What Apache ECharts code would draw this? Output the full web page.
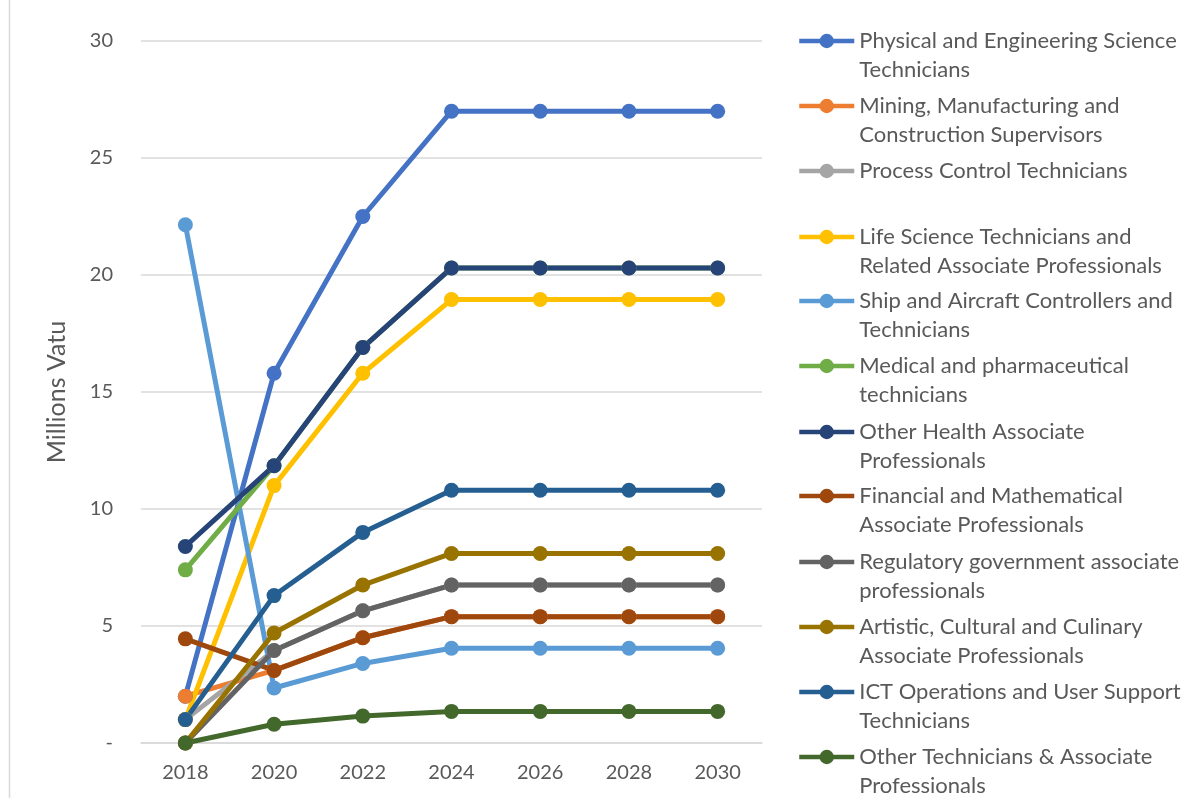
<!DOCTYPE html>
<html>
<head>
<meta charset="utf-8">
<script src="https://cdn.jsdelivr.net/npm/echarts@6/dist/echarts.min.js"></script>
<style>
  html, body { margin: 0; padding: 0; background: #ffffff; }
  #chart { width: 1202px; height: 798px; }
</style>
</head>
<body>
<div id="chart"></div>
<script>
// Years on the x axis
const years = ['2018', '2020', '2022', '2024', '2026', '2028', '2030'];

// Occupation groups (legend text, with line breaks as wrapped)
const names = [
  'Physical and Engineering Science\nTechnicians',
  'Mining, Manufacturing and\nConstruction Supervisors',
  'Process Control Technicians',
  'Life Science Technicians and\nRelated Associate Professionals',
  'Ship and Aircraft Controllers and\nTechnicians',
  'Medical and pharmaceutical\ntechnicians',
  'Other Health Associate\nProfessionals',
  'Financial and Mathematical\nAssociate Professionals',
  'Regulatory government associate\nprofessionals',
  'Artistic, Cultural and Culinary\nAssociate Professionals',
  'ICT Operations and User Support\nTechnicians',
  'Other Technicians & Associate\nProfessionals'
];

// Values in millions of vatu
const physicalEng   = [2.0, 15.8, 22.5, 27.0, 27.0, 27.0, 27.0];
const miningSuperv  = [2.0, 3.1, 4.5, 5.4, 5.4, 5.4, 5.4];
const processCtrl   = [1.0, 3.95, 5.65, 6.75, 6.75, 6.75, 6.75];
const lifeScience   = [1.0, 11.0, 15.8, 18.95, 18.95, 18.95, 18.95];
const shipAircraft  = [22.15, 2.35, 3.4, 4.05, 4.05, 4.05, 4.05];
const medicalPharm  = [7.4, 11.85, 16.9, 20.3, 20.3, 20.3, 20.3];
const otherHealth   = [8.4, 11.85, 16.9, 20.3, 20.3, 20.3, 20.3];
const financialMath = [4.45, 3.1, 4.5, 5.4, 5.4, 5.4, 5.4];
const regulatoryGov = [0, 3.95, 5.65, 6.75, 6.75, 6.75, 6.75];
const artisticCult  = [0, 4.7, 6.75, 8.1, 8.1, 8.1, 8.1];
const ictOps        = [1.0, 6.3, 9.0, 10.8, 10.8, 10.8, 10.8];
const otherTech     = [0, 0.8, 1.15, 1.35, 1.35, 1.35, 1.35];

const seriesValues = [
  physicalEng, miningSuperv, processCtrl, lifeScience, shipAircraft, medicalPharm,
  otherHealth, financialMath, regulatoryGov, artisticCult, ictOps, otherTech
];

const colors = [
  '#4472C4', '#ED7D31', '#A5A5A5', '#FFC000', '#5B9BD5', '#70AD47',
  '#264478', '#9E480E', '#636363', '#997300', '#255E91', '#43682B'
];

// Vertical centre of each legend icon
const legendRows = [41, 106, 171, 237, 301, 366, 432, 496, 562, 627, 692, 757];

const FONT = 'Lato, "Open Sans", sans-serif';
const TEXT = '#595959';
const LINE_H = 29;

// One legend per entry so each can sit at its own row. For wrapped entries an
// empty leading line keeps the icon level with the first line of text.
const legends = names.map((n, i) => {
  const twoLines = n.indexOf('\n') >= 0;
  return {
    show: true,
    orient: 'vertical',
    left: 797,
    top: twoLines ? legendRows[i] - LINE_H * 1.5 : legendRows[i] - LINE_H / 2,
    itemWidth: 55,
    itemHeight: 18,
    itemGap: 0,
    padding: 0,
    data: [n],
    selectedMode: false,
    formatter: name => (name.indexOf('\n') >= 0 ? '\n' + name : name),
    lineStyle: { width: 4.5 },
    textStyle: {
      fontFamily: FONT,
      fontSize: 22,
      color: TEXT,
      lineHeight: LINE_H
    }
  };
});

const series = seriesValues.map((vals, i) => ({
  name: names[i],
  type: 'line',
  data: vals,
  symbol: 'circle',
  symbolSize: 15,
  showSymbol: true,
  animation: false,
  itemStyle: { color: colors[i] },
  lineStyle: { color: colors[i], width: 5 }
}));

const chart = echarts.init(document.getElementById('chart'), null, { renderer: 'canvas' });
chart.setOption({
  backgroundColor: '#ffffff',
  color: colors,
  animation: false,
  grid: { left: 141, right: 440, top: 41, bottom: 55, containLabel: false },
  legend: legends,
  xAxis: {
    type: 'category',
    data: years,
    boundaryGap: true,
    axisLine: { show: true, lineStyle: { color: '#d9d9d9', width: 1.5 } },
    axisTick: { show: false },
    axisLabel: { fontFamily: FONT, fontSize: 20, color: TEXT, margin: 20 }
  },
  yAxis: {
    type: 'value',
    min: 0,
    max: 30,
    interval: 5,
    name: 'Millions Vatu',
    nameLocation: 'middle',
    nameRotate: 90,
    nameGap: 72,
    nameTextStyle: { fontFamily: FONT, fontSize: 25, color: TEXT },
    axisLine: { show: false },
    axisTick: { show: false },
    splitLine: { lineStyle: { color: '#d9d9d9', width: 1.5 } },
    axisLabel: {
      fontFamily: FONT, fontSize: 20, color: TEXT, margin: 28,
      formatter: v => (v === 0 ? '-' : String(v))
    }
  },
  graphic: [{
    type: 'line',
    shape: { x1: 9.5, y1: 0, x2: 9.5, y2: 798 },
    style: { stroke: '#d9d9d9', lineWidth: 1.5 },
    silent: true
  }],
  series: series
});
</script>
</body>
</html>
